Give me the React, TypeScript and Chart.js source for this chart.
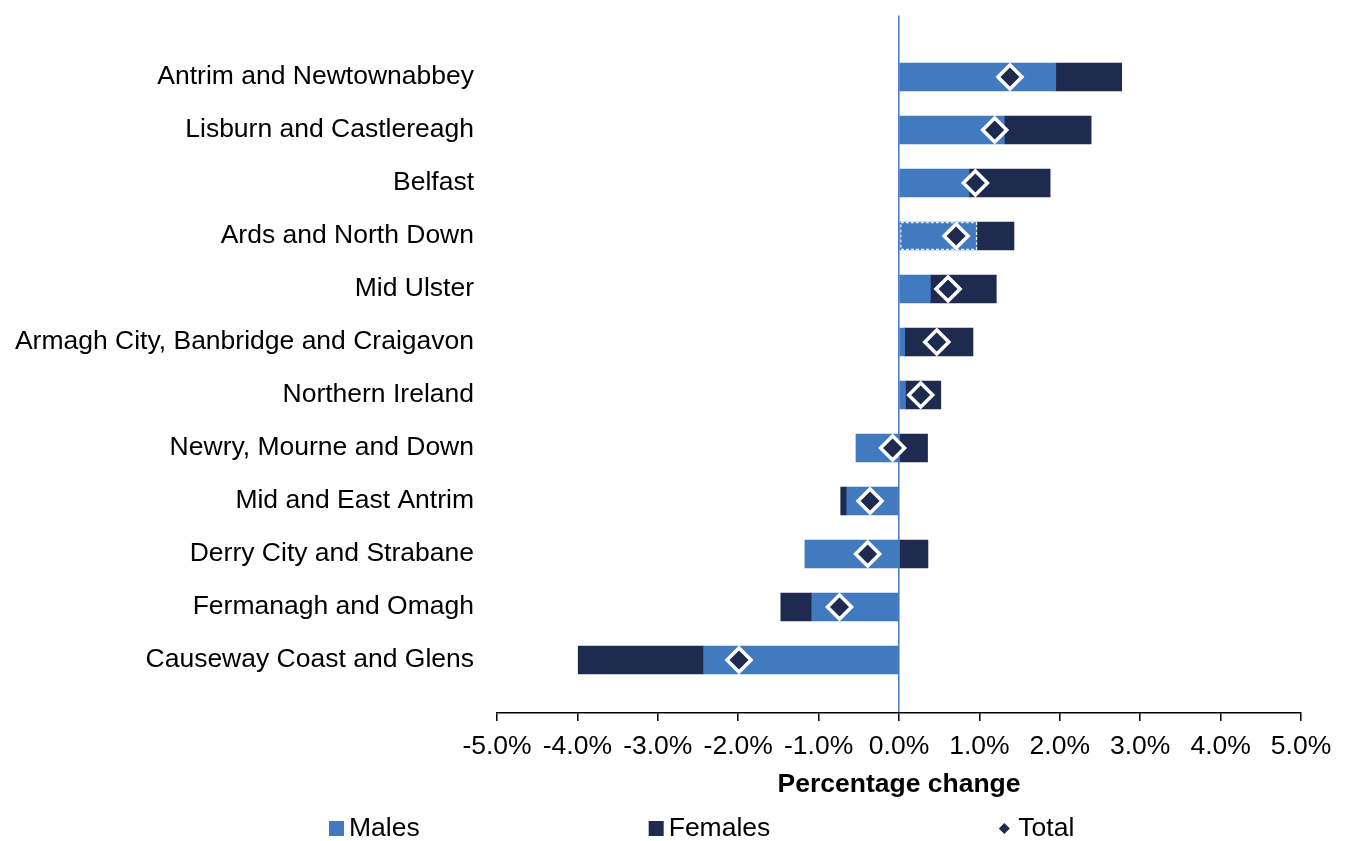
import React, { useEffect, useRef } from "react";
import { Chart, registerables } from "chart.js";

Chart.register(...registerables);

const categories = [
  "Antrim and Newtownabbey",
  "Lisburn and Castlereagh",
  "Belfast",
  "Ards and North Down",
  "Mid Ulster",
  "Armagh City, Banbridge and Craigavon",
  "Northern Ireland",
  "Newry, Mourne and Down",
  "Mid and East Antrim",
  "Derry City and Strabane",
  "Fermanagh and Omagh",
  "Causeway Coast and Glens",
];
const males = [1.95, 1.31, 0.87, 0.97, 0.39, 0.07, 0.08, -0.535, -0.65, -1.17, -1.085, -2.43];
const females = [0.82, 1.08, 1.01, 0.46, 0.82, 0.85, 0.44, 0.355, -0.075, 0.36, -0.385, -1.56];
const total = [1.38, 1.19, 0.95, 0.71, 0.61, 0.47, 0.27, -0.08, -0.36, -0.39, -0.74, -1.99];
const xTicks = [-5, -4, -3, -2, -1, 0, 1, 2, 3, 4, 5];
const legendLabels = ["Males", "Females", "Total"];

const MALE = "#427ABF";
const FEMALE = "#1F2A4F";
const ZERO = "#4A7EC6";
const FONT = "'Liberation Sans', Arial, sans-serif";

const legendPlugin = {
  id: "customLegend",
  afterDraw(chart: any) {
    const ctx = chart.ctx;
    ctx.save();
    ctx.font = `26.5px ${FONT}`;
    ctx.textBaseline = "middle";
    ctx.fillStyle = "#000";
    const y = 828.5;
    let x = 329;
    const gap = 229;
    legendLabels.forEach((label, i) => {
      if (i < 2) {
        ctx.fillStyle = i === 0 ? MALE : FEMALE;
        ctx.fillRect(x, y - 7.5, 15, 15);
        ctx.fillStyle = "#000";
        ctx.textAlign = "left";
        ctx.fillText(label, x + 20, y);
        x += 20 + ctx.measureText(label).width + gap;
      } else {
        const cx = x + 5;
        ctx.fillStyle = FEMALE;
        ctx.beginPath();
        ctx.moveTo(cx - 5.5, y);
        ctx.lineTo(cx, y - 5.5);
        ctx.lineTo(cx + 5.5, y);
        ctx.lineTo(cx, y + 5.5);
        ctx.closePath();
        ctx.fill();
        ctx.fillStyle = "#000";
        ctx.fillText(label, x + 19, y);
      }
    });
    ctx.restore();
  },
};

const dashedBarPlugin = {
  id: "dashedBar",
  beforeDatasetDraw(chart: any, args: any) {
    if (args.index !== 2) return;
    const meta = chart.getDatasetMeta(0);
    const el = meta.data[3];
    if (!el) return;
    const { x, y, base, height } = el.getProps(["x", "y", "base", "height"], true);
    const ctx = chart.ctx;
    ctx.save();
    ctx.strokeStyle = "rgba(255,255,255,0.9)";
    ctx.lineWidth = 1.2;
    ctx.setLineDash([3, 2]);
    ctx.strokeRect(Math.min(base, x) + 1, y - height / 2 + 0.6, Math.abs(x - base) - 1.5, height - 1.2);
    ctx.restore();
  },
};

export default function App() {
  const ref = useRef<HTMLCanvasElement | null>(null);

  useEffect(() => {
    if (!ref.current) return;
    const chart = new Chart(ref.current, {
      type: "bar",
      data: {
        datasets: [
          {
            type: "bar",
            label: "Males",
            data: males.map((v, i) => ({ x: v, y: i })),
            backgroundColor: MALE,
            barThickness: 28,
            stack: "mf",
            order: 2,
            borderWidth: 0,
          } as any,
          {
            type: "bar",
            label: "Females",
            data: females.map((v, i) => ({ x: v, y: i })),
            backgroundColor: FEMALE,
            barThickness: 28,
            stack: "mf",
            order: 2,
            borderWidth: 0,
          } as any,
          {
            type: "line",
            label: "Total",
            indexAxis: "y",
            stack: "total",
            order: 1,
            data: total.map((v, i) => ({ x: v, y: i })),
            showLine: false,
            pointStyle: "rectRot",
            pointRadius: 12,
            pointHoverRadius: 12,
            pointBackgroundColor: FEMALE,
            pointBorderColor: "#FFFFFF",
            pointBorderWidth: 3.5,
          } as any,
        ],
      },
      options: {
        indexAxis: "y",
        animation: false,
        responsive: true,
        maintainAspectRatio: false,
        layout: { padding: { top: 8, right: 47, bottom: 40, left: 0 } },
        plugins: {
          legend: { display: false },
          tooltip: { enabled: false },
        },
        scales: {
          x: {
            type: "linear",
            stacked: true,
            min: -5,
            max: 5,
            afterBuildTicks: (scale: any) => {
              scale.ticks = xTicks.map((v) => ({ value: v }));
            },
            afterFit: (scale: any) => {
              scale.height = 88;
            },
            ticks: {
              color: "#000",
              padding: 10,
              font: { family: FONT, size: 26.5 },
              callback: (v: any) => Number(v).toFixed(1) + "%",
            },
            grid: {
              display: true,
              drawOnChartArea: true,
              color: (c: any) => (c.tick && c.tick.value === 0 ? ZERO : "rgba(0,0,0,0)"),
              lineWidth: 1.6,
              tickColor: "#000",
              tickLength: 8,
              tickWidth: 1.5,
            },
            border: { display: true, color: "#000", width: 1.5 },
            title: {
              display: true,
              text: "Percentage change",
              color: "#000",
              font: { family: FONT, size: 26.5, weight: "bold" },
              padding: { top: 0, bottom: 0 },
            },
          },
          y: {
            type: "linear",
            reverse: true,
            stacked: true,
            offset: false,
            min: -1.16,
            max: 12,
            afterBuildTicks: (scale: any) => {
              scale.ticks = categories.map((_, i) => ({ value: i }));
            },
            afterFit: (scale: any) => {
              scale.width = 497;
              scale.paddingTop = 0;
              scale.paddingBottom = 0;
            },
            ticks: {
              color: "#000",
              padding: 15,
              font: { family: FONT, size: 26.5 },
              callback: (v: any) => categories[v] ?? "",
            },
            grid: { display: false },
            border: { display: false },
          },
        },
      } as any,
      plugins: [legendPlugin, dashedBarPlugin],
    });
    return () => chart.destroy();
  }, []);

  return (
    <div style={{ position: "absolute", left: 0, top: 0, width: 1348, height: 841, background: "#fff" }}>
      <canvas ref={ref} />
    </div>
  );
}
